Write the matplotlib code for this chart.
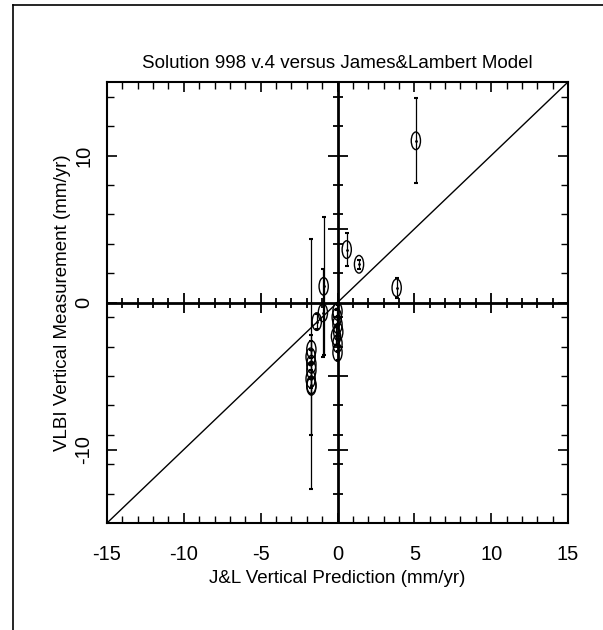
import numpy as np
import matplotlib.pyplot as plt
from matplotlib.patches import Ellipse
from matplotlib.lines import Line2D

plt.rcParams['font.family'] = ['Liberation Sans', 'DejaVu Sans']
plt.rcParams['axes.unicode_minus'] = False

# J&L prediction (x), VLBI measurement (y), 1-sigma of y
pred = [5.1, 3.85, 1.4, 0.6, -0.9, -0.95, -1.35,
        -1.7, -1.7, -1.75, -1.7, -1.75, -1.7, -1.7,
        0.0, -0.05, 0.0, 0.05, -0.1, 0.0, 0.0]
meas = [11.0, 1.0, 2.6, 3.6, 1.1, -0.7, -1.3,
        -4.2, -3.2, -3.7, -4.6, -5.2, -5.7, -5.6,
        -0.6, -1.0, -1.5, -2.0, -2.3, -2.8, -3.4]
sig_y = [2.9, 0.7, 0.3, 1.1, 4.7, 3.0, 0.5,
         8.5, 0.6, 0.5, 0.5, 0.6, 0.5, 3.4,
         0.4, 0.5, 0.6, 0.5, 0.6, 0.5, 0.5]
sig_x = [0.3] * len(pred)
ell_h = [0.6] * len(pred)

fig = plt.figure(figsize=(6.03, 6.30), dpi=100)
ax = fig.add_axes([107/603, 1 - 523/630, 461/603, 441/630])

ax.set_xlim(-15, 15)
ax.set_ylim(-15, 15)

# one-to-one line
ax.plot([-15, 15], [-15, 15], color='black', lw=1.0)

# zero axes through the middle
ax.axhline(0, color='black', lw=2.0)
ax.axvline(0, color='black', lw=2.0)
for t in range(-14, 15):
    ln = 10 if t % 5 == 0 else 5
    ax.plot([t], [0], marker='|', ms=ln * 1.4, mew=1.3, color='black')
ytk = [2, 4, 6, 8, 12, 14, -1, -3, -7, -9, -11, -13, 5, 10, -5, -10]
for t in ytk:
    ln = 10 if t % 5 == 0 else 5
    ax.plot([0], [t], marker='_', ms=ln * 1.4, mew=1.3, color='black')

# measurements
ax.errorbar(pred, meas, yerr=sig_y, fmt='none', ecolor='black',
            elinewidth=0.9, capsize=1.5, capthick=1.5)
ax.plot(pred, meas, '.', color='black', ms=2)
for x, y, w, h in zip(pred, meas, sig_x, ell_h):
    ax.add_patch(Ellipse((x, y), 2 * w, 2 * h, fill=False,
                         edgecolor='black', lw=1.0))

ax.set_xticks([-15, -10, -5, 0, 5, 10, 15])
ax.set_yticks([-10, 0, 10])
ax.set_xticks(np.arange(-15, 16, 1), minor=True)
ax.set_yticks([-13, -11, -9, -7, -5, -3, -1, 2, 4, 6, 8, 12, 14], minor=True)
ax.tick_params(which='both', direction='in', top=True, right=True,
               labelsize=14.5)
ax.tick_params(axis='x', which='major', pad=16)
ax.tick_params(axis='y', which='major', pad=10)
ax.tick_params(which='major', length=7, width=1.2)
ax.tick_params(which='minor', length=5, width=1.0)
for lab in ax.get_yticklabels():
    lab.set_rotation(90)
    lab.set_va('center')
for s in ax.spines.values():
    s.set_linewidth(1.5)

ax.set_title('Solution 998 v.4 versus James&Lambert Model', fontsize=13.5, pad=10)
ax.set_xlabel('J&L Vertical Prediction (mm/yr)', fontsize=13.5, labelpad=4)
ax.set_ylabel('VLBI Vertical Measurement (mm/yr)', fontsize=13.5, labelpad=2)

# outer page frame
fig.add_artist(Line2D([13/603, 13/603], [0, 1 - 5/630], color='black', lw=1.2))
fig.add_artist(Line2D([13/603, 1], [1 - 5/630, 1 - 5/630], color='black', lw=1.2))

fig.savefig('out.png', dpi=100)
